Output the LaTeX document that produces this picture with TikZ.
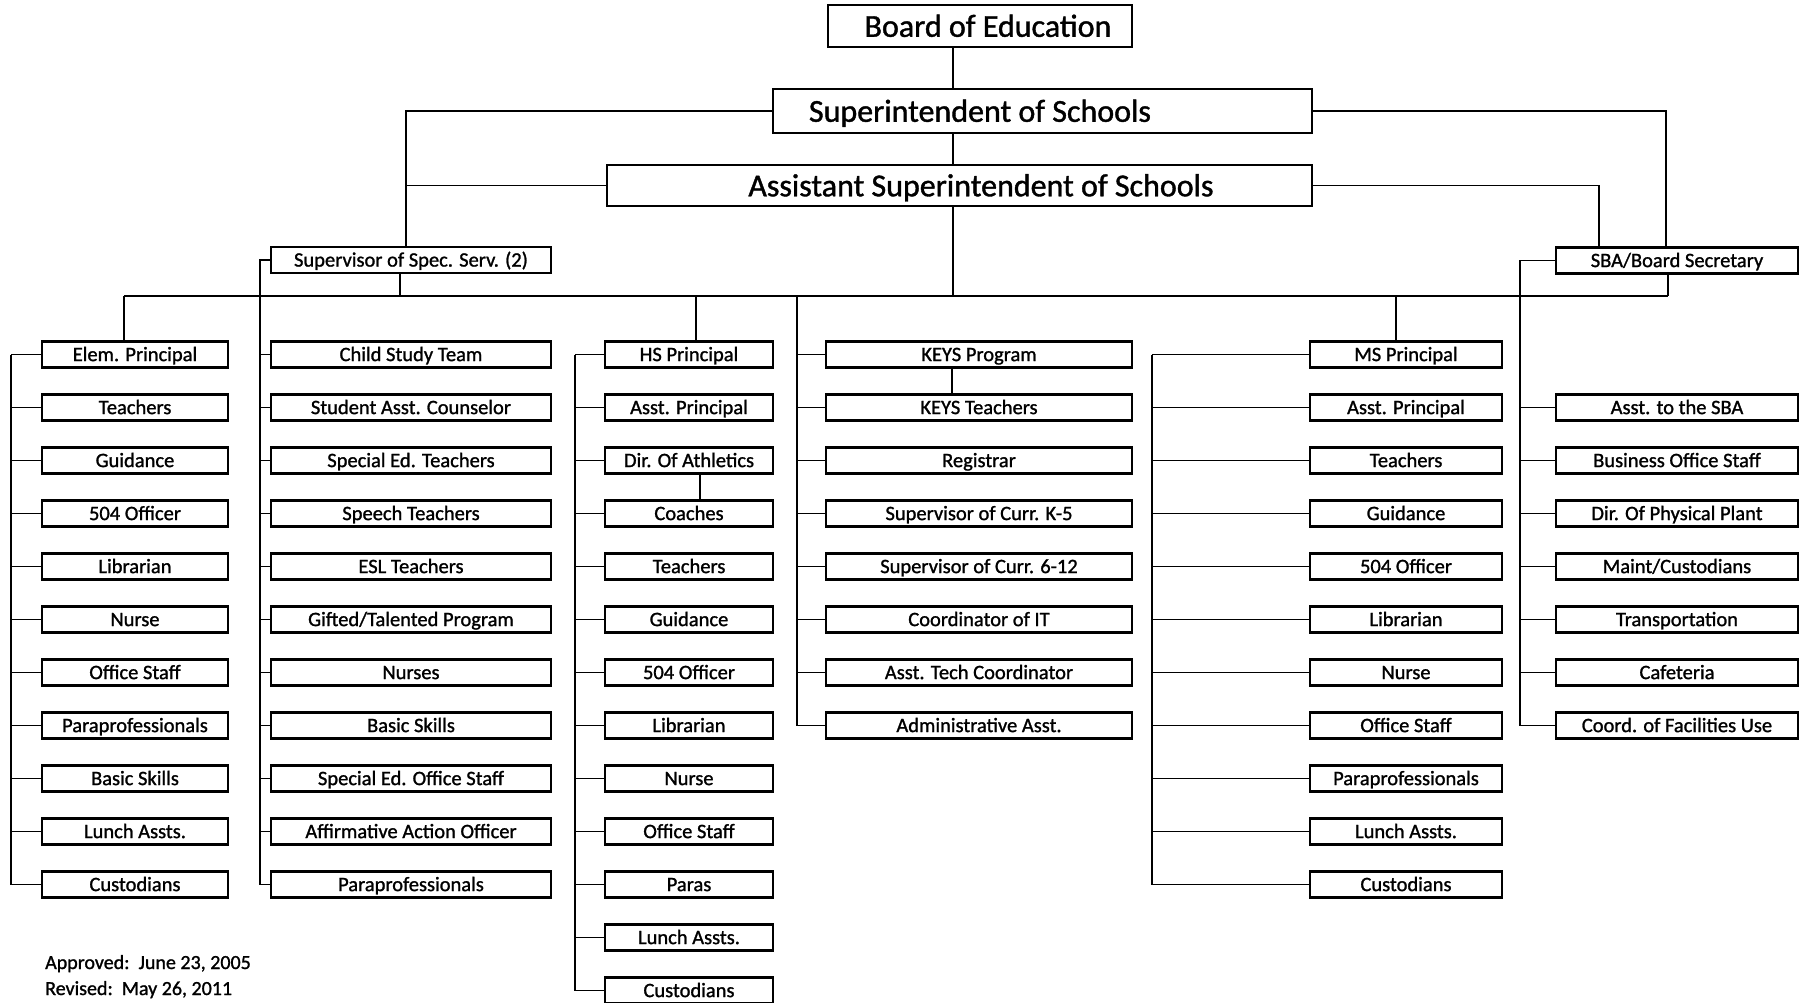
\documentclass[tikz,border=0pt]{standalone}
\usepackage{fontspec}
\setmainfont{Carlito}[UprightFeatures={FakeBold=1.2}]
\begin{document}
\begin{tikzpicture}[x=1pt,y=-1pt,
  box/.style={draw, line width=2.2pt, inner sep=0pt, minimum height=26pt, text height=13.2pt, text depth=0pt, font=\fontsize{20.5}{20.5}\selectfont},
  big/.style={draw, line width=2.2pt, inner sep=0pt},
  title/.style={inner sep=0pt, text height=20.6pt, text depth=0pt, font=\fontsize{32}{32}\selectfont},
  link/.style={line width=1.1pt},
  note/.style={anchor=base west, inner sep=0pt, font=\fontsize{20}{20}\selectfont}]
\useasboundingbox (0,0) rectangle (1800,1003);

% top levels
\node[big, minimum width=304pt, minimum height=42pt] (board) at (980,26) {};
\node[title] (boardt) at (988,26.5) {Board of Education};
\node[big, minimum width=539pt, minimum height=44pt] (sup) at (1042.5,111) {};
\node[title] (supt) at (980,111.5) {Superintendent of Schools};
\node[big, minimum width=705pt, minimum height=41pt] (asst) at (959.5,185.5) {};
\node[title] (asstt) at (981,186) {Assistant Superintendent of Schools};
\node[box, minimum width=280pt] (spec) at (411,260) {Supervisor of Spec. Serv. (2)};
\node[box, minimum width=242pt] (sba) at (1677,260.5) {SBA/Board Secretary};

% column nodes
\foreach \t [count=\i] in {Elem. Principal,Teachers,Guidance,504 Officer,Librarian,Nurse,Office Staff,Paraprofessionals,Basic Skills,Lunch Assts.,Custodians}
  \node[box, minimum width=186pt] (c1-\i) at (135,{354.5+53*(\i-1)}) {\t};
\foreach \t [count=\i] in {Child Study Team,Student Asst. Counselor,Special Ed. Teachers,Speech Teachers,ESL Teachers,Gifted/Talented Program,Nurses,Basic Skills,Special Ed. Office Staff,Affirmative Action Officer,Paraprofessionals}
  \node[box, minimum width=280pt] (c2-\i) at (411,{354.5+53*(\i-1)}) {\t};
\foreach \t [count=\i] in {HS Principal,Asst. Principal,Dir. Of Athletics,Coaches,Teachers,Guidance,504 Officer,Librarian,Nurse,Office Staff,Paras,Lunch Assts.,Custodians}
  \node[box, minimum width=168pt] (c3-\i) at (689,{354.5+53*(\i-1)}) {\t};
\foreach \t [count=\i] in {KEYS Program,KEYS Teachers,Registrar,Supervisor of Curr. K-5,Supervisor of Curr. 6-12,Coordinator of IT,Asst. Tech Coordinator,Administrative Asst.}
  \node[box, minimum width=306pt] (c4-\i) at (979,{354.5+53*(\i-1)}) {\t};
\foreach \t [count=\i] in {MS Principal,Asst. Principal,Teachers,Guidance,504 Officer,Librarian,Nurse,Office Staff,Paraprofessionals,Lunch Assts.,Custodians}
  \node[box, minimum width=192pt] (c5-\i) at (1406,{354.5+53*(\i-1)}) {\t};
\foreach \t [count=\i from 2] in {Asst. to the SBA,Business Office Staff,Dir. Of Physical Plant,Maint/Custodians,Transportation,Cafeteria,Coord. of Facilities Use}
  \node[box, minimum width=242pt] (c6-\i) at (1677,{354.5+53*(\i-1)}) {\t};

% helper coordinates
\coordinate (tx) at (953,296);
\coordinate (bl) at (124,296);
\coordinate (br) at (1668,296);
\coordinate (lx) at (406,0);
\coordinate (sx) at (400,0);
\coordinate (rx1) at (1666,0);
\coordinate (rx2) at (1599,0);
\coordinate (hx) at (696,0);
\coordinate (mx) at (1396,0);
\coordinate (v1) at (11,0);
\coordinate (v2) at (260,0);
\coordinate (v3) at (575,0);
\coordinate (v4) at (797,0);
\coordinate (v5) at (1152,0);
\coordinate (v6) at (1520,0);
\coordinate (ax) at (700,0);
\coordinate (kx) at (952,0);

% trunk and bus
\draw[link] (board.south -| tx) -- (sup.north -| tx);
\draw[link] (sup.south -| tx) -- (asst.north -| tx);
\draw[link] (asst.south -| tx) -- (tx);
\draw[link] (bl) -- (br);
\draw[link] (sup.west) -- (sup.west -| lx) -- (spec.north -| lx);
\draw[link] (asst.west) -- (asst.west -| lx);
\draw[link] (spec.south -| sx) -- (bl -| sx);
\draw[link] (sup.east) -- (sup.east -| rx1) -- (sba.north -| rx1);
\draw[link] (asst.east) -- (asst.east -| rx2) -- (sba.north -| rx2);
\draw[link] (sba.south -| br) -- (br);

% drops from bus
\draw[link] (bl) -- (c1-1.north -| bl);
\draw[link] (bl -| hx) -- (c3-1.north -| hx);
\draw[link] (bl -| mx) -- (c5-1.north -| mx);
\draw[link] (bl -| v4) -- (c4-8.west -| v4);

% column spines and ticks
\draw[link] (c1-1.west -| v1) -- (c1-11.west -| v1);
\foreach \i in {1,...,11} \draw[link] (c1-\i.west) -- (c1-\i.west -| v1);
\draw[link] (spec.west) -- (spec.west -| v2) -- (c2-11.west -| v2);
\foreach \i in {1,...,11} \draw[link] (c2-\i.west) -- (c2-\i.west -| v2);
\draw[link] (c3-1.west -| v3) -- (c3-13.west -| v3);
\foreach \i in {1,...,13} \draw[link] (c3-\i.west) -- (c3-\i.west -| v3);
\foreach \i in {1,...,8} \draw[link] (c4-\i.west) -- (c4-\i.west -| v4);
\draw[link] (c5-1.west -| v5) -- (c5-11.west -| v5);
\foreach \i in {1,...,11} \draw[link] (c5-\i.west) -- (c5-\i.west -| v5);
\draw[link] (sba.west) -- (sba.west -| v6) -- (c6-8.west -| v6);
\foreach \i in {2,...,8} \draw[link] (c6-\i.west) -- (c6-\i.west -| v6);
\draw[link] (c3-3.south -| ax) -- (c3-4.north -| ax);
\draw[link] (c4-1.south -| kx) -- (c4-2.north -| kx);

% footnote
\node[note] (appr) at (45,969) {Approved:\ \ June 23, 2005};
\node[note] (rev) at (45,995) {Revised:\ \ May 26, 2011};
\end{tikzpicture}
\end{document}
